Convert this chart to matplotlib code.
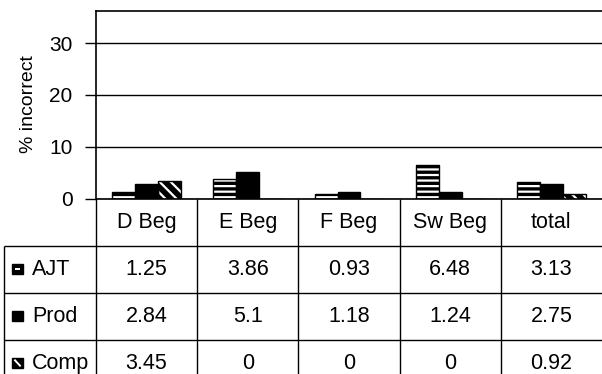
import numpy as np
import matplotlib
matplotlib.use("Agg")
import matplotlib.pyplot as plt
from matplotlib.patches import Rectangle

plt.rcParams['font.family'] = ['Liberation Sans', 'DejaVu Sans']
plt.rcParams['hatch.linewidth'] = 1.6

# data
categories = ['D Beg', 'E Beg', 'F Beg', 'Sw Beg', 'total']
series = ['AJT', 'Prod', 'Comp']
ajt = [1.25, 3.86, 0.93, 6.48, 3.13]
prod = [2.84, 5.1, 1.18, 1.24, 2.75]
comp = [3.45, 0, 0, 0, 0.92]
labels_txt = [['1.25', '3.86', '0.93', '6.48', '3.13'],
              ['2.84', '5.1', '1.18', '1.24', '2.75'],
              ['3.45', '0', '0', '0', '0.92']]
yticks = [0, 10, 20, 30]

hatches = ['---', '', '\\\\\\']
values = [ajt, prod, comp]

W, H = 602, 374
fig = plt.figure(figsize=(W / 100, H / 100), dpi=100)

# bar chart area
ax = fig.add_axes([96 / W, 1 - 198.5 / H, (602 - 96) / W, (198.5 - 10.5) / H])
x = np.arange(len(categories))
bw = 0.227
for k, (vals, h) in enumerate(zip(values, hatches)):
    pos = x + (k - 1) * bw
    ax.bar(pos, vals, bw, color='black', edgecolor='white', hatch=h, linewidth=0, zorder=3)
    ax.bar(pos, vals, bw, fill=False, edgecolor='black', linewidth=1, zorder=4)

ax.set_xlim(-0.5, 4.5)
ax.set_ylim(0, 36.3)
ax.set_yticks(yticks)
ax.set_xticks([])
ax.tick_params(axis='y', length=8, width=1, pad=9, labelsize=15, direction='out')
ax.yaxis.grid(True, color='black', linewidth=1)
ax.set_axisbelow(True)
for s in ['right', 'bottom']:
    ax.spines[s].set_visible(False)
ax.spines['left'].set_linewidth(1.2)
ax.spines['top'].set_linewidth(1.2)
ax.set_ylabel('% incorrect', fontsize=14, labelpad=9)

# data table below
tab = fig.add_axes([4 / W, 0, (602 - 4) / W, (H - 198.5) / H])
xmin = -0.5 - 92 / 101.2
nrows = (H - 198.5) / 47
tab.set_xlim(xmin, 4.5)
tab.set_ylim(nrows, 0)
tab.axis('off')

tab.hlines(0, -0.5, 4.5, color='black', lw=1.2, clip_on=False)
tab.hlines([1, 2, 3], xmin, 4.5, color='black', lw=1, clip_on=False)
tab.vlines(np.arange(5) - 0.5, 0, nrows, color='black', lw=1, clip_on=False)
tab.vlines(xmin, 1, nrows, color='black', lw=1, clip_on=False)

fs = 15.5
for i, c in enumerate(categories):
    tab.text(i, 0.52, c, ha='center', va='center', fontsize=fs)
for r in range(3):
    for i in range(len(categories)):
        tab.text(i, r + 1.52, labels_txt[r][i], ha='center', va='center', fontsize=fs)
    kx = xmin + 0.079
    ky = r + 1.5 - 0.117
    tab.add_patch(Rectangle((kx, ky), 0.109, 0.234, facecolor='black', edgecolor='black',
                            lw=1, zorder=3))
    if r == 0:
        tab.hlines(r + 1.5, kx + 0.025, kx + 0.084, color='white', lw=1.4, zorder=4)
    if r == 2:
        tab.plot([kx + 0.03, kx + 0.079], [ky + 0.06, ky + 0.174], color='white', lw=1.4, zorder=4)
    tab.text(xmin + 0.277, r + 1.52, series[r], ha='left', va='center', fontsize=fs)

fig.savefig('out.png', dpi=100)
